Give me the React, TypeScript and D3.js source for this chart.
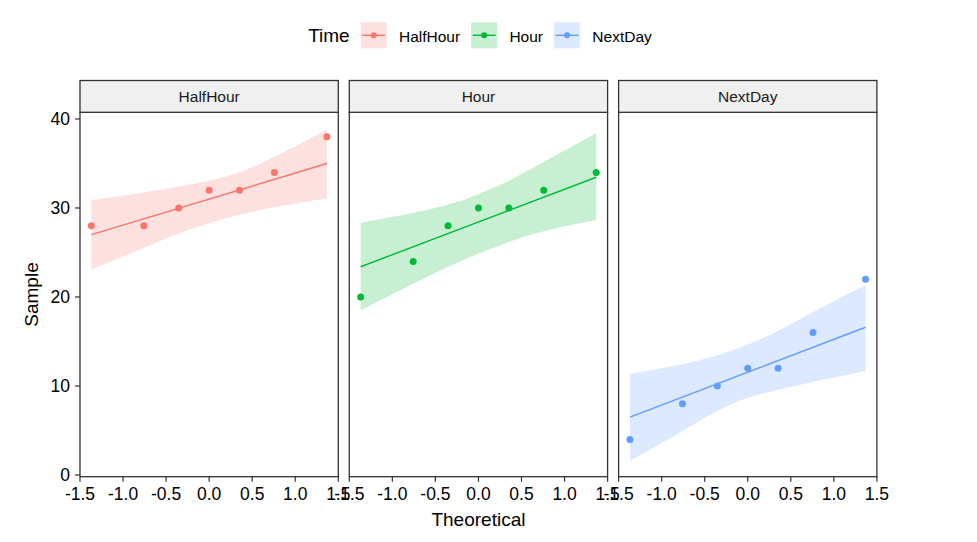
import React, { useEffect, useRef } from 'react';
import * as d3 from 'd3';

// theoretical normal quantiles for n = 7
const theoretical = [-1.368, -0.758, -0.353, 0, 0.353, 0.758, 1.368];

const groups = ['HalfHour', 'Hour', 'NextDay'];
const colors = ['#F8766D', '#00BA38', '#619CFF'];

const halfHourSample = [28, 28, 30, 32, 32, 34, 38];
const hourSample = [20, 24, 28, 30, 30, 32, 34];
const nextDaySample = [4, 8, 10, 12, 12, 16, 22];

// qq line value at first / last theoretical quantile
const halfHourLine = [27, 35];
const hourLine = [23.4, 33.45];
const nextDayLine = [6.5, 16.6];

// confidence band at each theoretical quantile
const halfHourLower = [23.1, 25.5, 27.2, 28.3, 29.3, 30.1, 31.1];
const halfHourUpper = [30.9, 31.7, 32.4, 33.0, 33.9, 35.7, 38.8];
const hourLower = [18.5, 21.5, 23.4, 24.9, 26.2, 27.5, 28.65];
const hourUpper = [28.35, 29.4, 30.3, 31.5, 33.0, 35.2, 38.4];
const nextDayLower = [1.6, 4.9, 7.3, 8.8, 9.55, 10.5, 11.7];
const nextDayUpper = [11.35, 12.4, 13.4, 14.6, 16.1, 18.35, 21.35];

const xTicks = [-1.5, -1.0, -0.5, 0.0, 0.5, 1.0, 1.5];
const yTicks = [0, 10, 20, 30, 40];

const samples = [halfHourSample, hourSample, nextDaySample];
const lines = [halfHourLine, hourLine, nextDayLine];
const lowers = [halfHourLower, hourLower, nextDayLower];
const uppers = [halfHourUpper, hourUpper, nextDayUpper];

const FONT = '"Liberation Sans", Arial, Helvetica, sans-serif';

const QQChart: React.FC = () => {
  const svgRef = useRef<SVGSVGElement>(null);

  useEffect(() => {
    if (!svgRef.current) return;
    const svg = d3.select(svgRef.current);
    svg.selectAll('*').remove();

    const panelLeft = 80;
    const panelW = 258.3;
    const panelGap = 11;
    const stripTop = 80.5;
    const stripBottom = 112.3;
    const plotBottom = 476.7;

    const y = d3.scaleLinear().domain([-0.19, 40.75]).range([plotBottom, stripBottom]);

    const g = svg.append('g');

    groups.forEach((name, i) => {
      const x0 = panelLeft + i * (panelW + panelGap);
      const x = d3.scaleLinear().domain([-1.5, 1.5]).range([x0, x0 + panelW]);
      const p = g.append('g');
      const color = colors[i];

      // band
      const bandData = theoretical.map((t, k) => ({ t, lo: lowers[i][k], hi: uppers[i][k] }));
      const area = d3.area<{ t: number; lo: number; hi: number }>()
        .x(d => x(d.t)).y0(d => y(d.lo)).y1(d => y(d.hi))
        .curve(d3.curveBasis);
      p.append('path').datum(bandData)
        .attr('d', area).attr('fill', color).attr('fill-opacity', 0.22);

      // qq line
      p.append('line')
        .attr('x1', x(theoretical[0])).attr('y1', y(lines[i][0]))
        .attr('x2', x(theoretical[theoretical.length - 1])).attr('y2', y(lines[i][1]))
        .attr('stroke', color).attr('stroke-width', 1.4);

      // points
      p.selectAll('circle').data(samples[i]).enter().append('circle')
        .attr('cx', (_, k) => x(theoretical[k])).attr('cy', d => y(d))
        .attr('r', 3.5).attr('fill', color);

      // panel border
      p.append('rect')
        .attr('x', x0).attr('y', stripBottom).attr('width', panelW).attr('height', plotBottom - stripBottom)
        .attr('fill', 'none').attr('stroke', '#333333').attr('stroke-width', 1.3);

      // strip
      p.append('rect')
        .attr('x', x0).attr('y', stripTop).attr('width', panelW).attr('height', stripBottom - stripTop)
        .attr('fill', '#F0F0F0').attr('stroke', '#333333').attr('stroke-width', 1.3);
      p.append('text')
        .attr('x', x0 + panelW / 2).attr('y', (stripTop + stripBottom) / 2 + 5.3)
        .attr('text-anchor', 'middle').attr('font-size', 15.5).attr('fill', '#1A1A1A')
        .text(name);

      // x axis
      const xa = p.append('g');
      xTicks.forEach(t => {
        xa.append('line')
          .attr('x1', x(t)).attr('x2', x(t)).attr('y1', plotBottom).attr('y2', plotBottom + 5)
          .attr('stroke', '#333333').attr('stroke-width', 1.2);
        xa.append('text')
          .attr('x', x(t)).attr('y', plotBottom + 23)
          .attr('text-anchor', 'middle').attr('font-size', 17.5).attr('fill', '#000')
          .text(t.toFixed(1));
      });

      // y axis on first panel only
      if (i === 0) {
        yTicks.forEach(t => {
          p.append('line')
            .attr('x1', x0 - 5).attr('x2', x0).attr('y1', y(t)).attr('y2', y(t))
            .attr('stroke', '#333333').attr('stroke-width', 1.2);
          p.append('text')
            .attr('x', x0 - 10).attr('y', y(t) + 6.2)
            .attr('text-anchor', 'end').attr('font-size', 17.5).attr('fill', '#000')
            .text(t);
        });
      }
    });

    const totalLeft = panelLeft;
    const totalRight = panelLeft + 3 * panelW + 2 * panelGap;

    // axis titles
    svg.append('text')
      .attr('x', (totalLeft + totalRight) / 2).attr('y', 526)
      .attr('text-anchor', 'middle').attr('font-size', 19).attr('fill', '#000')
      .text('Theoretical');
    svg.append('text')
      .attr('transform', `translate(38,${(stripBottom + plotBottom) / 2}) rotate(-90)`)
      .attr('text-anchor', 'middle').attr('font-size', 19).attr('fill', '#000')
      .text('Sample');

    // legend
    const lg = svg.append('g');
    const baseline = 41.7;
    const keySize = 26;
    const title = lg.append('text').attr('y', baseline).attr('font-size', 19).attr('fill', '#000').text('Time');
    let cx = (title.node() as SVGTextElement).getComputedTextLength() + 11;
    groups.forEach((name, i) => {
      const item = lg.append('g').attr('transform', `translate(${cx},0)`);
      item.append('rect')
        .attr('x', 0).attr('y', 22.3).attr('width', keySize).attr('height', keySize)
        .attr('fill', colors[i]).attr('fill-opacity', 0.22);
      item.append('line')
        .attr('x1', 1.5).attr('x2', keySize - 1.5).attr('y1', 22.3 + keySize / 2).attr('y2', 22.3 + keySize / 2)
        .attr('stroke', colors[i]).attr('stroke-width', 1.4);
      item.append('circle')
        .attr('cx', keySize / 2).attr('cy', 22.3 + keySize / 2).attr('r', 3).attr('fill', colors[i]);
      const label = item.append('text')
        .attr('x', keySize + 12.3).attr('y', baseline)
        .attr('font-size', 15.5).attr('fill', '#000').text(name);
      cx += keySize + 12.3 + (label.node() as SVGTextElement).getComputedTextLength() + 11;
    });
    const legendW = cx - 11;
    lg.attr('transform', `translate(${(totalLeft + totalRight) / 2 - legendW / 2 + 1.5},0)`);
  }, []);

  return (
    <svg
      ref={svgRef}
      width={977}
      height={542}
      style={{ position: 'absolute', left: 0, top: 0, background: '#fff', fontFamily: FONT }}
    />
  );
};

export default function App() {
  return <QQChart />;
}
